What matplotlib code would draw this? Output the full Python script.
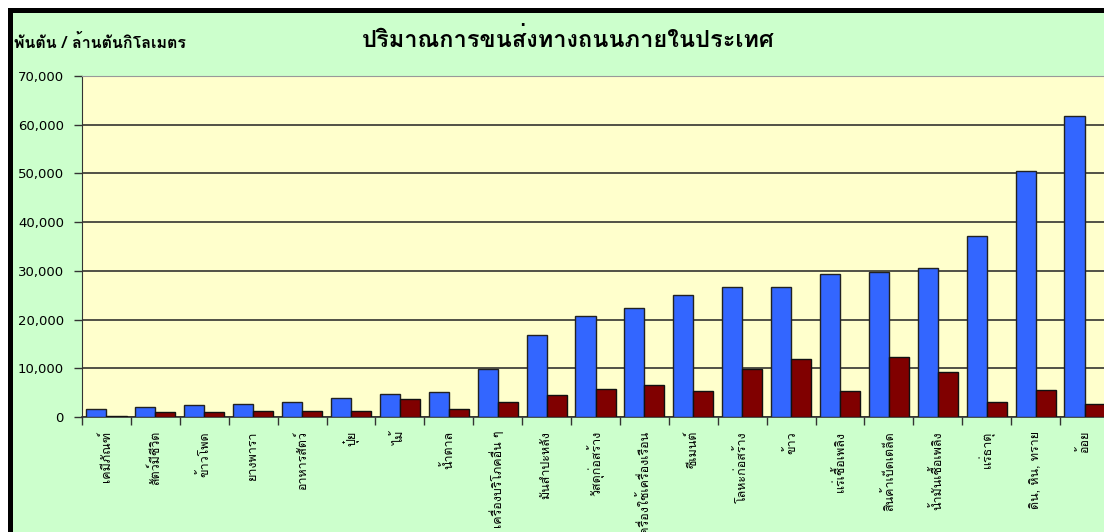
import numpy as np
import matplotlib
matplotlib.use("Agg")
import matplotlib.pyplot as plt
from matplotlib import font_manager
from matplotlib.ft2font import FT2Font
from matplotlib.patches import Rectangle

# find a font that actually has Thai glyphs
thai_font = None
for f in font_manager.fontManager.ttflist:
    try:
        if 0x0E01 in FT2Font(f.fname).get_charmap():
            thai_font = f.name
            break
    except Exception:
        pass
families = [thai_font, "DejaVu Sans"] if thai_font else ["DejaVu Sans"]
plt.rcParams["font.family"] = families

categories = ["เคมีภัณฑ์", "สัตว์มีชีวิต", "ข้าวโพด", "ยางพารา", "อาหารสัตว์", "ปุ๋ย",
              "ไม้", "น้ำตาล", "เครื่องบริโภคอื่น ๆ", "มันสำปะหลัง", "วัสดุก่อสร้าง",
              "เครื่องใช้เครื่องเรือน", "ซีเมนต์", "โลหะก่อสร้าง", "ข้าว", "แร่เชื้อเพลิง",
              "สินค้าเบ็ดเตล็ด", "น้ำมันเชื้อเพลิง", "แร่ธาตุ", "ดิน, หิน, ทราย", "อ้อย"]
tonnes = [1600, 2100, 2400, 2650, 3100, 3800, 4800, 5050, 9800, 16750, 20800,
          22450, 25100, 26750, 26750, 29400, 29800, 30600, 37100, 50500, 61700]
tonne_km = [200, 950, 950, 1250, 1250, 1250, 3600, 1650, 3050, 4500, 5700,
            6600, 5300, 9850, 12000, 5250, 12400, 9330, 3060, 5450, 2600]
yticks = [0, 10000, 20000, 30000, 40000, 50000, 60000, 70000]

title = "ปริมาณการขนส่งทางถนนภายในประเทศ"
unit_label = "พันตัน / ล้านตันกิโลเมตร"

W, H = 1104, 532
fig = plt.figure(figsize=(W / 100, H / 100), dpi=100)
fig.patch.set_facecolor("white")

# green chart area with black frame on left/top
fig.patches.append(Rectangle((8 / W, 0), 1, 1 - 8 / H, transform=fig.transFigure,
                             facecolor="black", edgecolor="none", zorder=-3))
fig.patches.append(Rectangle((13 / W, 0), 1, 1 - 13 / H, transform=fig.transFigure,
                             facecolor="#CCFFCC", edgecolor="none", zorder=-2))

ax = fig.add_axes([82 / W, (H - 417) / H, (1109 - 82) / W, (417 - 76) / H])
ax.set_zorder(2)
ax.set_facecolor("#FFFFCC")

x = np.arange(len(categories))
w = 0.41
ax.bar(x - w / 2, tonnes, w, color="#3366FF", edgecolor="#222222", linewidth=1, zorder=3)
ax.bar(x + w / 2, tonne_km, w, color="#800000", edgecolor="#111111", linewidth=1, zorder=3)

ax.set_xlim(-0.5, len(categories) - 0.5)
ax.set_ylim(0, 70000)
ax.set_yticks(yticks)
ax.set_yticklabels([f"{v:,}" for v in yticks], family="DejaVu Sans", fontsize=9.5)
ax.yaxis.grid(True, color="#222222", linewidth=1.1, zorder=1)
ax.set_axisbelow(True)
ax.tick_params(axis="y", length=6, width=1, color="#333333", pad=7)

ax.set_xticks(x)
ax.set_xticklabels(categories, rotation=90, fontsize=9, va="top", ha="center")
ax.set_xticks(np.arange(len(categories) + 1) - 0.5, minor=True)
ax.tick_params(axis="x", which="major", length=0, pad=10)
ax.tick_params(axis="x", which="minor", length=6, width=1, color="#333333")

for s in ["top", "right"]:
    ax.spines[s].set_color("#999999")
ax.spines["left"].set_color("#333333")
ax.spines["bottom"].set_color("#333333")
ax.spines["bottom"].set_linewidth(1.2)

fig.text(568 / W, 1 - 40 / H, title, ha="center", va="center", fontsize=17, weight="bold")
fig.text(14 / W, 1 - 42 / H, unit_label, ha="left", va="center", fontsize=11.5, weight="bold")

fig.savefig("out.png", dpi=100)
